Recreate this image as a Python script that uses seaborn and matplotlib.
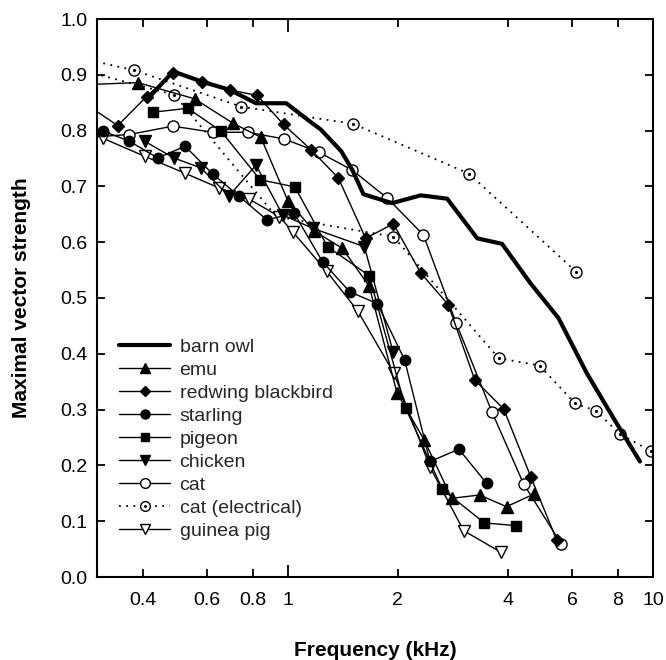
import matplotlib
matplotlib.use("Agg")
import matplotlib.pyplot as plt
from matplotlib.lines import Line2D
from matplotlib.path import Path
from matplotlib.ticker import FixedLocator, FixedFormatter
import seaborn as sns

# Maximal vector strength of phase locking vs. stimulus frequency (kHz)
barn_owl_f = [0.42, 0.485, 0.58, 0.693, 0.818, 0.99, 1.13, 1.23, 1.40, 1.50, 1.61,
              1.93, 2.31, 2.73, 3.30, 3.86, 4.61, 5.51, 6.59, 7.79, 9.21]
barn_owl_vs = [0.862, 0.906, 0.888, 0.873, 0.849, 0.849, 0.820, 0.802, 0.763, 0.730, 0.686,
               0.670, 0.684, 0.678, 0.607, 0.597, 0.527, 0.464, 0.365, 0.285, 0.207]

emu_f = [0.27, 0.388, 0.555, 0.708, 0.843, 1.0, 1.18, 1.41, 1.67, 1.99, 2.36, 2.81, 3.35, 3.97, 4.73]
emu_vs = [0.882, 0.886, 0.857, 0.813, 0.788, 0.674, 0.620, 0.589, 0.521, 0.330, 0.246, 0.141, 0.147, 0.126, 0.149]

redwing_f = [0.27, 0.342, 0.41, 0.485, 0.582, 0.693, 0.824, 0.973, 1.156, 1.375, 1.633, 1.945,
             2.31, 2.75, 3.25, 3.90, 4.63, 5.45]
redwing_vs = [0.854, 0.809, 0.861, 0.904, 0.887, 0.873, 0.863, 0.811, 0.766, 0.715, 0.607, 0.633,
              0.545, 0.488, 0.353, 0.301, 0.179, 0.066]

starling_f = [0.312, 0.368, 0.44, 0.523, 0.623, 0.736, 0.876, 1.04, 1.244, 1.477, 1.758, 2.088, 2.45, 2.94, 3.50]
starling_vs = [0.799, 0.781, 0.751, 0.772, 0.722, 0.682, 0.640, 0.652, 0.565, 0.511, 0.490, 0.389, 0.207, 0.229, 0.168]

pigeon_f = [0.427, 0.532, 0.656, 0.839, 1.045, 1.284, 1.67, 2.10, 2.65, 3.45, 4.22]
pigeon_vs = [0.833, 0.840, 0.799, 0.712, 0.699, 0.592, 0.540, 0.303, 0.157, 0.097, 0.092]

chicken_f = [0.405, 0.487, 0.578, 0.689, 0.818, 0.967, 1.168, 1.62, 1.94]
chicken_vs = [0.781, 0.751, 0.733, 0.683, 0.738, 0.649, 0.625, 0.592, 0.404]

cat_f = [0.27, 0.368, 0.484, 0.623, 0.776, 0.977, 1.218, 1.502, 1.872, 2.35, 2.89, 3.62, 4.42, 5.61]
cat_vs = [0.787, 0.793, 0.808, 0.797, 0.797, 0.785, 0.761, 0.729, 0.679, 0.613, 0.455, 0.296, 0.167, 0.059]

cat_el_a_f = [0.25, 0.38, 0.744, 1.512, 3.13, 6.16]
cat_el_a_vs = [0.935, 0.908, 0.843, 0.812, 0.723, 0.547]

cat_el_b_f = [0.27, 0.489, 0.93, 1.945, 3.78, 4.89, 6.12, 6.97, 8.12, 9.86]
cat_el_b_vs = [0.909, 0.864, 0.646, 0.610, 0.392, 0.379, 0.311, 0.298, 0.256, 0.226]

guinea_f = [0.312, 0.405, 0.521, 0.649, 0.784, 0.947, 1.03, 1.276, 1.556, 1.952, 2.45, 3.03, 3.84]
guinea_vs = [0.786, 0.754, 0.724, 0.697, 0.677, 0.646, 0.619, 0.548, 0.476, 0.365, 0.197, 0.083, 0.044]

labels = ["barn owl", "emu", "redwing blackbird", "starling", "pigeon",
          "chicken", "cat", "cat (electrical)", "guinea pig"]

x_major = [1, 10]
x_major_labels = ["1", "10"]
x_minor = [0.4, 0.6, 0.8, 2, 4, 6, 8]
x_minor_labels = ["0.4", "0.6", "0.8", "2", "4", "6", "8"]
y_ticks = [0.0, 0.1, 0.2, 0.3, 0.4, 0.5, 0.6, 0.7, 0.8, 0.9, 1.0]

sns.set_theme(style="ticks")
plt.rcParams["font.family"] = ["Liberation Sans", "DejaVu Sans"]
plt.rcParams["axes.linewidth"] = 1.5

fig = plt.figure(figsize=(6.66, 6.60), dpi=100)
ax = fig.add_axes([97 / 666, 1 - 577 / 660, (653 - 97) / 666, (577 - 19) / 660])

K = "black"
THIN = 1.0
DOT = (0, (1, 3))
MS = 7.5
# open circle with a centre dot
ODOT = Path.make_compound_path(Path.circle((0, 0), 1.0), Path.circle((0, 0), 0.16))


def draw(f, v, marker=None, ms=MS, face=K, lw=THIN, ls="-", markevery=None):
    sns.lineplot(x=f, y=v, ax=ax, estimator=None, sort=False, color=K,
                 lw=lw, linestyle=ls, marker=marker, markersize=ms,
                 markerfacecolor=face, markeredgecolor=K, markeredgewidth=1.0,
                 markevery=markevery, legend=False)


# electrical stimulation curves sit underneath the acoustic data
draw(cat_el_a_f, cat_el_a_vs, marker=ODOT, ms=8, face="white", ls=DOT, lw=1.3)
draw(cat_el_b_f, cat_el_b_vs, marker=ODOT, ms=8, face="white", ls=DOT, lw=1.3,
     markevery=[i for i in range(len(cat_el_b_f)) if i != 2])

draw(cat_f, cat_vs, marker="o", ms=8, face="white")
draw(guinea_f, guinea_vs, marker="v", ms=8, face="white")
draw(emu_f, emu_vs, marker="^", ms=8)
draw(redwing_f, redwing_vs, marker="D", ms=6.5)
draw(starling_f, starling_vs, marker="o", ms=7.5)
draw(pigeon_f, pigeon_vs, marker="s", ms=6.8)
draw(chicken_f, chicken_vs, marker="v", ms=8)
draw(barn_owl_f, barn_owl_vs, lw=3.0)

ax.set_xscale("log")
ax.set_xlim(0.3, 10)
ax.set_ylim(0, 1)
ax.xaxis.set_major_locator(FixedLocator(x_major))
ax.xaxis.set_major_formatter(FixedFormatter(x_major_labels))
ax.xaxis.set_minor_locator(FixedLocator(x_minor))
ax.xaxis.set_minor_formatter(FixedFormatter(x_minor_labels))
ax.set_yticks(y_ticks)
ax.set_yticklabels([f"{t:.1f}" for t in y_ticks])

ax.tick_params(which="both", direction="in", top=True, right=True,
               labelsize=14, width=1.3, color=K, labelcolor=K)
ax.tick_params(axis="x", which="major", length=9, pad=11)
ax.tick_params(axis="x", which="minor", length=6, pad=11)
ax.tick_params(axis="y", which="major", length=6, pad=7)
for s in ax.spines.values():
    s.set_color(K)
    s.set_linewidth(1.5)

ax.set_xlabel("Frequency (kHz)", fontsize=15, fontweight="bold", labelpad=23, color=K)
ax.set_ylabel("Maximal vector strength", fontsize=15, fontweight="bold", labelpad=21, color=K)


def handle(marker=None, face=K, ms=7, lw=THIN, ls="-"):
    return Line2D([], [], color=K, lw=lw, linestyle=ls, marker=marker, markersize=ms,
                  markerfacecolor=face, markeredgecolor=K, markeredgewidth=1.0)


handles = [
    handle(lw=3.0),
    handle("^", ms=6.5),
    handle("D", ms=5.5),
    handle("o", ms=6.5),
    handle("s", ms=6),
    handle("v", ms=6.5),
    handle("o", face="white", ms=7),
    handle(ODOT, face="white", ms=7, lw=1.3, ls=DOT),
    handle("v", face="white", ms=7),
]
ax.legend(handles, labels, loc="upper left", bbox_to_anchor=(0.04, 0.428),
          frameon=False, fontsize=14, handlelength=2.6, handletextpad=0.5,
          labelspacing=0.28, borderpad=0, borderaxespad=0)

fig.savefig("out.png", dpi=100, facecolor="white")
